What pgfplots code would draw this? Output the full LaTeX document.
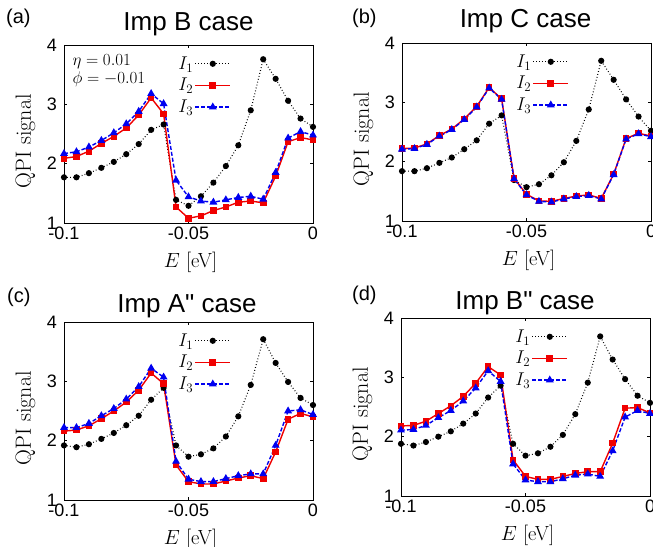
\RequirePackage{fix-cm}
\documentclass[border=0pt]{standalone}
\usepackage{fontspec}
\setsansfont{Liberation Sans}
\newfontfamily\titlefont{Liberation Sans}[Ligatures=TeXOff]
\usepackage{pgfplots}
\usepackage{pgfplotstable}
\pgfplotsset{compat=1.18}

\pgfplotstableread{
x      I1   I2   I3
-0.100 1.77 2.09 2.17
-0.095 1.77 2.12 2.20
-0.090 1.84 2.21 2.28
-0.085 1.93 2.34 2.39
-0.080 2.03 2.46 2.52
-0.075 2.16 2.60 2.67
-0.070 2.33 2.82 2.88
-0.065 2.57 3.11 3.18
-0.060 2.66 2.84 3.01
-0.055 1.39 1.27 1.72
-0.050 1.29 1.08 1.44
-0.045 1.45 1.12 1.37
-0.040 1.68 1.21 1.35
-0.035 1.96 1.27 1.39
-0.030 2.31 1.35 1.43
-0.025 2.90 1.37 1.45
-0.020 3.76 1.34 1.40
-0.015 3.43 1.79 1.85
-0.010 3.06 2.37 2.43
-0.005 2.76 2.44 2.54
 0.000 2.62 2.40 2.48
}\tabA
\pgfplotstableread{
x      I1   I2   I3
-0.100 1.84 2.22 2.21
-0.095 1.84 2.23 2.22
-0.090 1.89 2.30 2.29
-0.085 1.98 2.44 2.43
-0.080 2.07 2.55 2.54
-0.075 2.21 2.72 2.71
-0.070 2.36 2.93 2.92
-0.065 2.64 3.25 3.24
-0.060 2.78 3.06 3.05
-0.055 1.69 1.72 1.71
-0.050 1.57 1.45 1.44
-0.045 1.62 1.34 1.33
-0.040 1.77 1.33 1.32
-0.035 1.99 1.38 1.37
-0.030 2.35 1.42 1.41
-0.025 2.88 1.44 1.43
-0.020 3.70 1.38 1.37
-0.015 3.38 1.79 1.78
-0.010 3.05 2.39 2.38
-0.005 2.76 2.48 2.47
 0.000 2.52 2.43 2.42
}\tabB
\pgfplotstableread{
x      I1   I2   I3
-0.100 1.92 2.16 2.22
-0.095 1.89 2.18 2.22
-0.090 1.94 2.25 2.29
-0.085 2.03 2.37 2.42
-0.080 2.13 2.50 2.54
-0.075 2.26 2.65 2.70
-0.070 2.42 2.85 2.91
-0.065 2.69 3.14 3.22
-0.060 2.89 2.96 3.07
-0.055 1.92 1.59 1.65
-0.050 1.73 1.31 1.35
-0.045 1.77 1.27 1.31
-0.040 1.87 1.27 1.31
-0.035 2.07 1.32 1.36
-0.030 2.41 1.37 1.41
-0.025 2.94 1.41 1.44
-0.020 3.71 1.36 1.44
-0.015 3.31 1.81 1.92
-0.010 2.99 2.36 2.50
-0.005 2.72 2.46 2.52
 0.000 2.60 2.40 2.44
}\tabC
\pgfplotstableread{
x      I1   I2   I3
-0.100 1.88 2.18 2.11
-0.095 1.85 2.19 2.12
-0.090 1.91 2.26 2.19
-0.085 2.00 2.39 2.32
-0.080 2.09 2.52 2.44
-0.075 2.22 2.68 2.60
-0.070 2.39 2.90 2.82
-0.065 2.66 3.18 3.11
-0.060 2.86 3.04 2.93
-0.055 1.88 1.61 1.54
-0.050 1.68 1.33 1.27
-0.045 1.72 1.28 1.24
-0.040 1.83 1.28 1.24
-0.035 2.03 1.33 1.29
-0.030 2.38 1.38 1.35
-0.025 2.91 1.41 1.37
-0.020 3.69 1.41 1.33
-0.015 3.30 1.89 1.76
-0.010 2.97 2.48 2.33
-0.005 2.69 2.49 2.44
 0.000 2.57 2.40 2.39
}\tabD

\pgfplotsset{
  qpi/.style={
    scale only axis, width=249pt, height=178pt,
    anchor=south west, clip=false,
    xmin=-0.1, xmax=0, ymin=1, ymax=4,
    xtick={-0.1,-0.05,0}, xticklabels={-0.1,-0.05,0},
    ytick={1,2,3,4}, yticklabels={1,2,3,4},
    tick align=inside, major tick length=3pt,
    tick style={black, line width=0.6pt},
    axis line style={line width=0.9pt},
    ticklabel style={font=\fontsize{18}{18}\sffamily},
    xticklabel style={yshift=-0.5pt},
    yticklabel style={xshift=-3.5pt},
    xlabel={$E$ [eV]}, ylabel={QPI signal},
    xlabel style={font=\fontsize{20.5}{20.5}\selectfont, at={(axis description cs:0.5,-0.22)}, anchor=center, xshift=2pt},
    ylabel style={font=\fontsize{22}{22}\selectfont, at={(axis description cs:-0.155,0.46)}, anchor=center},
    legend plot pos=right,
    legend cell align=left,
    legend style={at={(axis description cs:0.44,0.955)}, anchor=north west,
      draw=none, fill=none, font=\fontsize{18.5}{18.5}\selectfont,
      row sep=4.5pt, nodes={inner sep=1.5pt}},
    legend image code/.code={\draw[mark repeat=2,mark phase=2,##1] plot coordinates {(0pt,0pt) (17.5pt,0pt) (35pt,0pt)};},
  },
  s1/.style={black, line width=1.1pt, dash pattern=on 0.8pt off 2.2pt, mark=*, mark size=2.5pt, mark options={solid, fill=black}},
  s2/.style={color={rgb,255:red,240;green,0;blue,0}, line width=1.4pt, mark=square*, mark size=2.6pt, mark options={solid}},
  s3/.style={color={rgb,255:red,0;green,0;blue,240}, line width=1.4pt, dash pattern=on 4pt off 2pt, mark=triangle*, mark size=3.2pt, mark options={solid}},
}

\begin{document}
\begin{tikzpicture}[x=1pt,y=1pt]
\path[use as bounding box] (0,0) rectangle (653,546);

% (a)
\begin{axis}[qpi, at={(64pt,323pt)}]
\addplot[s1] table[x=x,y=I1] {\tabA};
\addplot[s2] table[x=x,y=I2] {\tabA};
\addplot[s3] table[x=x,y=I3] {\tabA};
\legend{$I_1$,$I_2$,$I_3$}
\node[anchor=base west, font=\fontsize{17}{17}\selectfont] at (axis description cs:0.02,0.883) {$\eta=0.01$};
\node[anchor=base west, font=\fontsize{17}{17}\selectfont] at (axis description cs:0.02,0.782) {$\phi=-0.01$};
\end{axis}

% (b)
\begin{axis}[qpi, at={(402pt,325pt)}]
\addplot[s1] table[x=x,y=I1] {\tabB};
\addplot[s2] table[x=x,y=I2] {\tabB};
\addplot[s3] table[x=x,y=I3] {\tabB};
\legend{$I_1$,$I_2$,$I_3$}
\end{axis}

% (c)
\begin{axis}[qpi, at={(64pt,46pt)}]
\addplot[s1] table[x=x,y=I1] {\tabC};
\addplot[s2] table[x=x,y=I2] {\tabC};
\addplot[s3] table[x=x,y=I3] {\tabC};
\legend{$I_1$,$I_2$,$I_3$}
\end{axis}

% (d)
\begin{axis}[qpi, at={(401pt,50pt)}]
\addplot[s1] table[x=x,y=I1] {\tabD};
\addplot[s2] table[x=x,y=I2] {\tabD};
\addplot[s3] table[x=x,y=I3] {\tabD};
\legend{$I_1$,$I_2$,$I_3$}
\end{axis}

% titles and panel labels
\node[anchor=base, font=\fontsize{26}{26}\titlefont] at (188.5,515) {Imp B case};
\node[anchor=base, font=\fontsize{26}{26}\titlefont] at (525.5,518) {Imp C case};
\node[anchor=base, font=\fontsize{26}{26}\titlefont] at (187,233.3) {Imp A" case};
\node[anchor=base, font=\fontsize{26}{26}\titlefont] at (525,236) {Imp B" case};
\node[anchor=base west, inner sep=0pt, font=\fontsize{20}{20}\sffamily] at (6,522) {(a)};
\node[anchor=base west, inner sep=0pt, font=\fontsize{20}{20}\sffamily] at (352,522) {(b)};
\node[anchor=base west, inner sep=0pt, font=\fontsize{20}{20}\sffamily] at (7,243) {(c)};
\node[anchor=base west, inner sep=0pt, font=\fontsize{20}{20}\sffamily] at (352,245) {(d)};
\end{tikzpicture}
\end{document}
